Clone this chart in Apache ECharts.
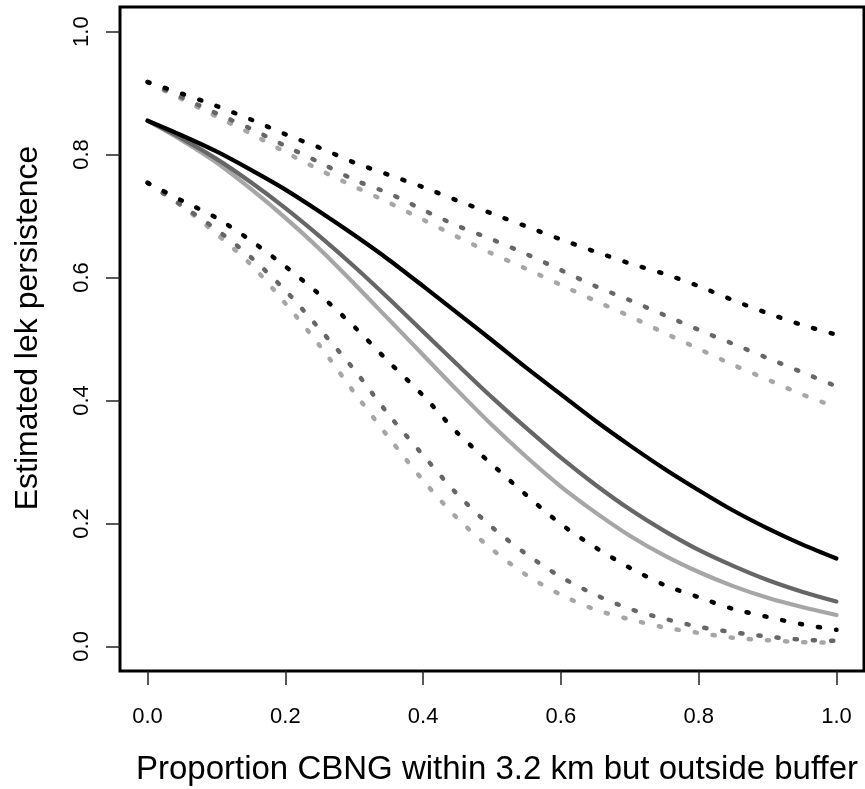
<!DOCTYPE html>
<html>
<head>
<meta charset="utf-8">
<script src="https://cdn.jsdelivr.net/npm/echarts@6/dist/echarts.min.js"></script>
<style>
html,body{margin:0;padding:0;background:#fff;}
#chart{width:865px;height:789px;}
</style>
</head>
<body>
<div id="chart"></div>
<script>
// ---- data ----
const xValues = [0,0.05,0.1,0.15,0.2,0.25,0.3,0.35,0.4,0.45,0.5,0.55,0.6,0.65,0.7,0.75,0.8,0.85,0.9,0.95,1.0];

const blackMean  = [0.855,0.831,0.805,0.775,0.743,0.707,0.669,0.629,0.586,0.542,0.498,0.453,0.410,0.367,0.327,0.289,0.254,0.221,0.192,0.166,0.143];
const blackUpper = [0.918,0.899,0.879,0.857,0.833,0.811,0.787,0.767,0.747,0.725,0.704,0.683,0.662,0.642,0.623,0.606,0.586,0.563,0.542,0.523,0.507];
const blackLower = [0.754,0.725,0.697,0.660,0.618,0.572,0.520,0.463,0.408,0.347,0.296,0.246,0.199,0.161,0.128,0.100,0.080,0.061,0.048,0.036,0.027];

const darkMean  = [0.855,0.826,0.793,0.755,0.713,0.667,0.618,0.566,0.512,0.458,0.405,0.355,0.307,0.263,0.223,0.188,0.157,0.131,0.108,0.089,0.073];
const darkUpper = [0.918,0.893,0.867,0.842,0.814,0.787,0.759,0.737,0.710,0.684,0.662,0.638,0.612,0.586,0.563,0.539,0.515,0.492,0.469,0.446,0.423];
const darkLower = [0.754,0.717,0.678,0.633,0.579,0.516,0.450,0.377,0.311,0.247,0.194,0.150,0.113,0.084,0.061,0.045,0.032,0.023,0.016,0.011,0.009];

const lightMean  = [0.855,0.823,0.787,0.744,0.697,0.646,0.590,0.532,0.474,0.416,0.360,0.308,0.260,0.218,0.180,0.148,0.121,0.098,0.079,0.064,0.051];
const lightUpper = [0.918,0.890,0.862,0.834,0.804,0.775,0.748,0.722,0.694,0.666,0.639,0.614,0.588,0.562,0.537,0.510,0.484,0.458,0.434,0.410,0.389];
const lightLower = [0.754,0.716,0.671,0.621,0.558,0.489,0.413,0.340,0.270,0.208,0.158,0.116,0.084,0.060,0.044,0.031,0.022,0.014,0.010,0.007,0.006];

const xTicks = [0, 0.2, 0.4, 0.6, 0.8, 1.0];
const yTicks = [0, 0.2, 0.4, 0.6, 0.8, 1.0];

const xTitle = 'Proportion CBNG within 3.2 km but outside buffer';
const yTitle = 'Estimated lek persistence';

// ---- styling ----
const COL_BLACK = '#000000';
const COL_DARK = '#666666';
const COL_LIGHT = '#a6a6a6';
const FONT = '"Liberation Sans", Arial, sans-serif';

function pairs(arr){ return xValues.map((x,i)=>[x, arr[i]]); }

function solid(name, arr, color){
  return {
    name, type:'line', data: pairs(arr), showSymbol:false, smooth:0.3,
    lineStyle:{color, width:4.2, cap:'round', join:'round'}
  };
}
function dotted(name, arr, color){
  return {
    name, type:'line', data: pairs(arr), showSymbol:false, smooth:0.3,
    lineStyle:{color, width:4.5, type:[2.2,16], cap:'round'}
  };
}

const chart = echarts.init(document.getElementById('chart'), null, {renderer:'canvas'});
chart.setOption({
  animation:false,
  backgroundColor:'#ffffff',
  grid:{left:120, top:7, right:1, bottom:118, show:true, borderColor:'#000', borderWidth:3, backgroundColor:'transparent'},
  xAxis:{
    type:'value', min:-0.04, max:1.04,
    splitLine:{show:false},
    axisLine:{show:false, onZero:false},
    axisTick:{show:true, inside:false, length:14, customValues:xTicks, lineStyle:{color:'#222', width:1.5}},
    axisLabel:{show:true, customValues:xTicks, margin:35, fontFamily:FONT, fontSize:22, color:'#000',
      formatter:v=>v.toFixed(1)}
  },
  yAxis:{
    type:'value', min:-0.04, max:1.04,
    splitLine:{show:false},
    axisLine:{show:false, onZero:false},
    axisTick:{show:true, inside:false, length:14, customValues:yTicks, lineStyle:{color:'#222', width:1.5}},
    axisLabel:{show:true, customValues:yTicks, rotate:90, margin:27, fontFamily:FONT, fontSize:22, color:'#000',
      formatter:v=>v.toFixed(1)}
  },
  graphic:[
    {type:'text', x:497, y:770, style:{text:xTitle, fontFamily:FONT, fontSize:33, fill:'#000', align:'center', verticalAlign:'middle'}},
    {type:'text', x:28, y:328, rotation:Math.PI/2, style:{text:yTitle, fontFamily:FONT, fontSize:32, fill:'#000', align:'center', verticalAlign:'middle'}}
  ],
  series:[
    dotted('light upper', lightUpper, COL_LIGHT),
    dotted('light lower', lightLower, COL_LIGHT),
    solid('light mean', lightMean, COL_LIGHT),
    dotted('dark upper', darkUpper, COL_DARK),
    dotted('dark lower', darkLower, COL_DARK),
    solid('dark mean', darkMean, COL_DARK),
    dotted('black upper', blackUpper, COL_BLACK),
    dotted('black lower', blackLower, COL_BLACK),
    solid('black mean', blackMean, COL_BLACK)
  ]
});
</script>
</body>
</html>
